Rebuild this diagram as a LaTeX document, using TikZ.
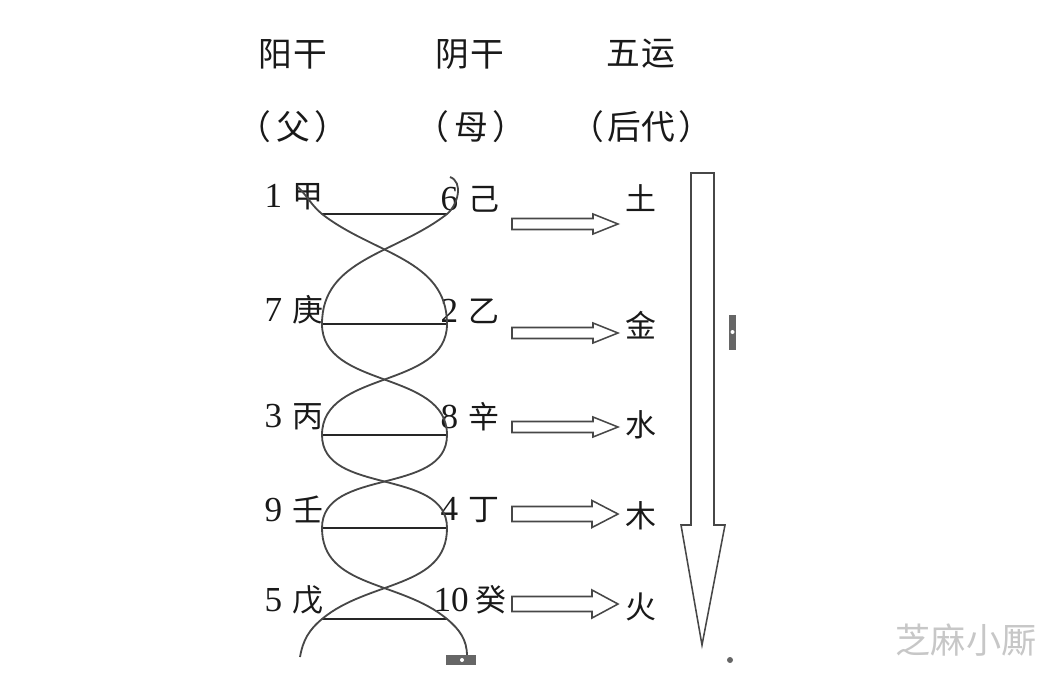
\documentclass[tikz,border=0pt]{standalone}
\usepackage{fontspec}
\setmainfont{Liberation Serif}
\newfontfamily\cjk{Noto Sans CJK SC}
\usetikzlibrary{positioning}

\newcommand{\gz}[1]{{\fontsize{22}{26}\selectfont\cjk #1}}

\tikzset{
  stem/.style={font=\fontsize{25}{28}\selectfont, inner sep=0pt, text=black!90},
  toplbl/.style={font=\fontsize{24}{28}\selectfont\cjk, inner sep=0pt, text=black!90},
  yun/.style={font=\fontsize{22}{26}\selectfont\cjk, inner sep=0pt, text=black!90},
  strand/.style={draw=black!72, line width=1.3pt},
  bar/.style={draw=black!85, line width=1.8pt},
  hollow/.style={draw=black!72, line width=1.1pt, fill=white, line join=miter},
  handle/.style={fill=black!60, draw=none},
}

% block arrow: #1 tail centre, #2 length, #3 half shaft, #4 half head, #5 head length
\newcommand{\blockarrow}[5]{%
  \draw[hollow] (#1) ++(0,-#3) -- ++({#2-#5},0) -- ++(0,{-(#4-#3)})
    -- ++(#5,#4) -- ++(-#5,#4) -- ++(0,{-(#4-#3)}) -- ++({-(#2-#5)},0) -- cycle;}

\begin{document}
\begin{tikzpicture}[x=0.025cm,y=-0.025cm]
  \useasboundingbox (0,0) rectangle (1052,680);
  % headings
  \node[toplbl] (hyang) at (293,54) {阳\hspace{0.05em}干};
  \node[toplbl] (hyin) at (470,54) {阴\hspace{0.05em}干};
  \node[toplbl] (hyun) at (641,54) {五\hspace{0.05em}运};
  \node[toplbl] (fu) at (293,127) {（\hspace{0.15em}父\hspace{0.15em}）};
  \node[toplbl] (mu) at (471,127) {（\hspace{0.15em}母\hspace{0.15em}）};
  \node[toplbl] (hou) at (641,127) {（\hspace{0.1em}后代\hspace{0.1em}）};

  % yang stems (left)
  \node[stem,anchor=east] (jia) at (324,197) {1\hspace{0.3em}\gz{甲}};
  \node[stem,anchor=east] (geng) at (324,310) {7\hspace{0.3em}\gz{庚}};
  \node[stem,anchor=east] (bing) at (324,417) {3\hspace{0.3em}\gz{丙}};
  \node[stem,anchor=east] (ren) at (324,509) {9\hspace{0.3em}\gz{壬}};
  \node[stem,anchor=east] (wu) at (324,600) {5\hspace{0.3em}\gz{戊}};
  % yin stems (middle)
  \node[stem,anchor=east] (ji) at (500,199) {6\hspace{0.3em}\gz{己}};
  \node[stem,anchor=east] (yi) at (500,311) {2\hspace{0.3em}\gz{乙}};
  \node[stem,anchor=east] (xin) at (500,417) {8\hspace{0.3em}\gz{辛}};
  \node[stem,anchor=east] (ding) at (500,510) {4\hspace{0.3em}\gz{丁}};
  \node[stem,anchor=east] (gui) at (507,600) {10\hspace{0.2em}\gz{癸}};
  % five movements (right)
  \node[yun] (tu) at (641,198) {土};
  \node[yun] (jin) at (641,325) {金};
  \node[yun] (shui) at (641,425) {水};
  \node[yun] (mu5) at (641,516) {木};
  \node[yun] (huo) at (641,607) {火};

  % ends of the pairing bars
  \coordinate (L1) at (322,214); \coordinate (R1) at (447,214);
  \coordinate (L2) at (322,324); \coordinate (R2) at (447,324);
  \coordinate (L3) at (322,435); \coordinate (R3) at (447,435);
  \coordinate (L4) at (322,528); \coordinate (R4) at (447,528);
  \coordinate (L5) at (322,619); \coordinate (R5) at (447,619);
  \coordinate (a0) at (298,187); \coordinate (a6) at (300,657);
  \coordinate (b0) at (450,177); \coordinate (b6) at (467,656);

  \foreach \i in {1,...,5}
    \draw[bar] (L\i) -- (R\i);

  % the two strands
  \draw[strand] (a0) to[out=-45,in=140] (L1) to[out=-38,in=90] (R2)
    to[out=-90,in=90] (L3) to[out=-90,in=90] (R4) to[out=-90,in=40] (L5)
    to[out=-140,in=80] (a6);
  \draw[strand] (b0) to[out=-20,in=40] (R1) to[out=-142,in=90] (L2)
    to[out=-90,in=90] (R3) to[out=-90,in=90] (L4) to[out=-90,in=140] (R5)
    to[out=-40,in=90] (b6);

  % arrows to the five movements
  \coordinate (t1) at (512,224);
  \coordinate (t2) at (512,333);
  \coordinate (t3) at (512,427);
  \coordinate (t4) at (512,514);
  \coordinate (t5) at (512,604);
  \blockarrow{t1}{106}{5.5}{10}{25}
  \blockarrow{t2}{106}{5.5}{10}{25}
  \blockarrow{t3}{106}{5.5}{10}{25}
  \blockarrow{t4}{106}{7.5}{13.5}{26}
  \blockarrow{t5}{106}{7.5}{14}{26}

  % long arrow down
  \coordinate (flow) at (702.5,173);
  \draw[hollow] (flow) ++(-11.5,0) -- ++(23,0) -- ++(0,352) -- ++(11,0)
    -- (702,645) -- (681,525) -- (691,525) -- cycle;

  % small marks
  \fill[handle] (446,655) rectangle (476,665);
  \fill[white] (462,660) circle (2);
  \fill[handle] (729,315) rectangle (736,350);
  \fill[white] (732.5,332) circle (2);
  \fill[handle] (730,660) circle (3);

  % watermark
  \node[font=\fontsize{25}{28}\selectfont\cjk, text=black!22, inner sep=0pt]
    (wm) at (966,640) {芝麻小厮};
\end{tikzpicture}
\end{document}
